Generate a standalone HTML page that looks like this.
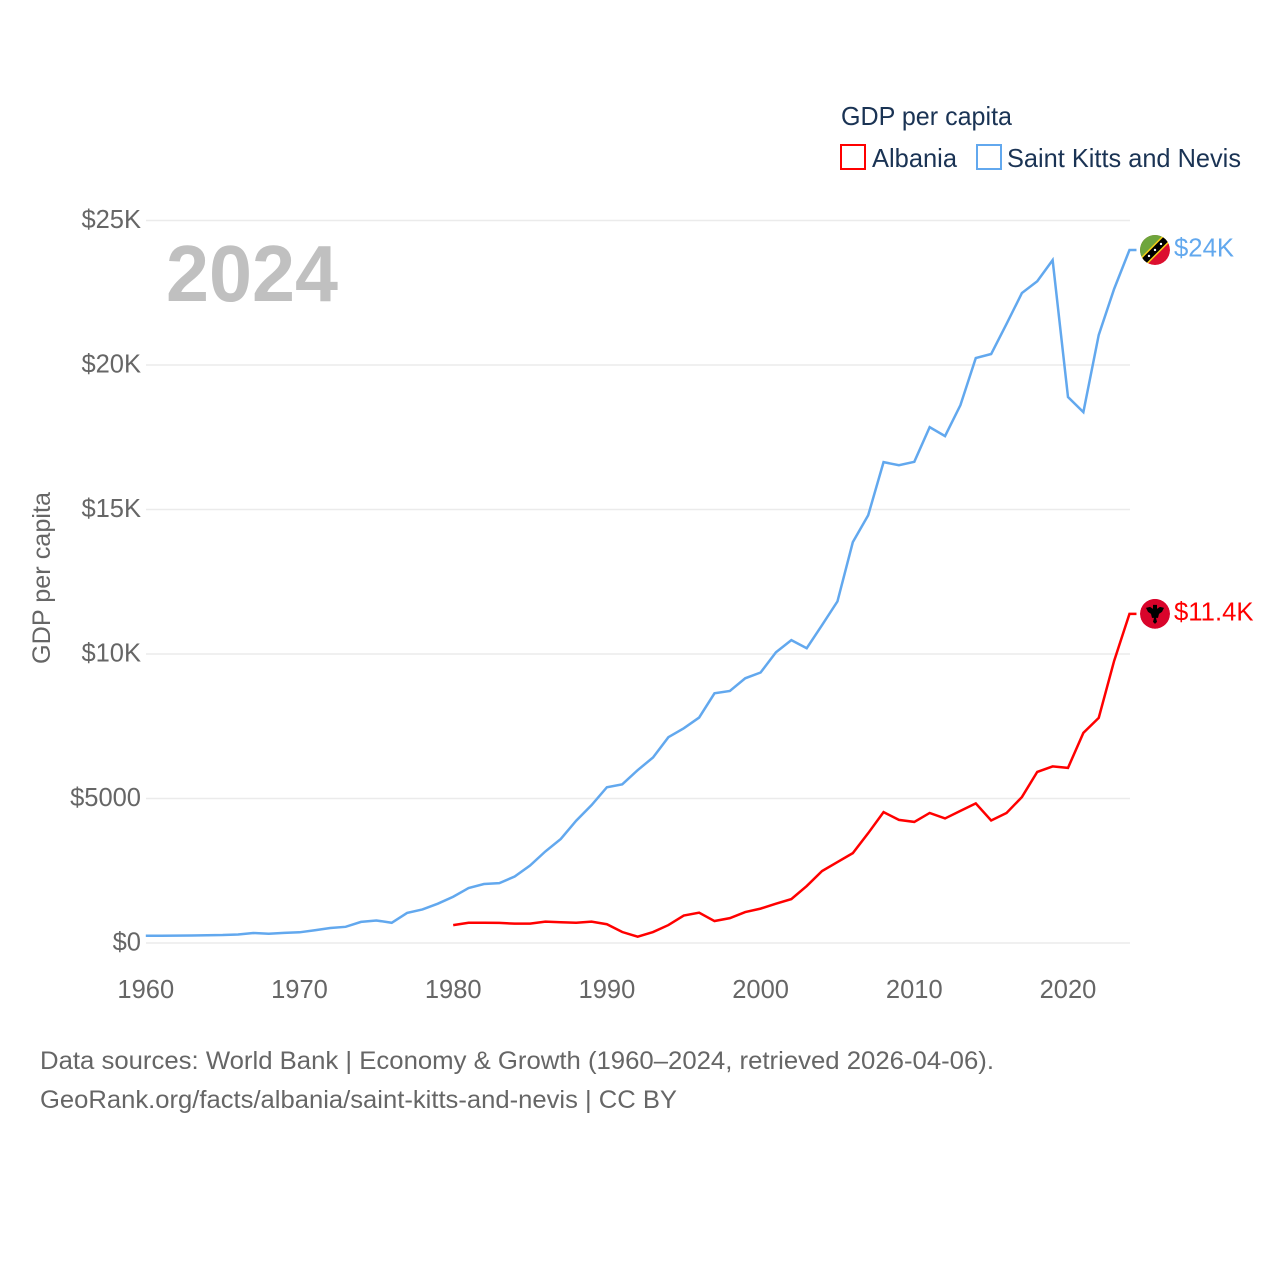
<!DOCTYPE html>
<html lang="en">
<head>
<meta charset="utf-8">
<title>GDP per capita: Albania and Saint Kitts and Nevis</title>
<style>
html,body{margin:0;padding:0;background:#fff;}
svg{display:block;font-family:"Liberation Sans",sans-serif;}
</style>
</head>
<body>
<svg id="chart" xmlns="http://www.w3.org/2000/svg" width="1280" height="1280" viewBox="0 0 1280 1280">
  <defs>
    <clipPath id="flag-clip-a"><circle cx="0" cy="0" r="15"></circle></clipPath>
  </defs>
  <rect width="1280" height="1280" fill="#ffffff"></rect>
  <g id="grid"></g>
  <g id="yticks"></g>
  <g id="xticks"></g>
  <text x="166" y="301" font-size="80" font-weight="700" fill="#c0c0c0" textLength="172" lengthAdjust="spacingAndGlyphs">2024</text>
  <text transform="translate(50,578) rotate(-90)" text-anchor="middle" font-size="25" fill="#666666" textLength="172" lengthAdjust="spacingAndGlyphs">GDP per capita</text>
  <g id="series"></g>
  <g id="ends"></g>
  <g>
    <text x="841" y="125" font-size="26" fill="#1a3354" textLength="171" lengthAdjust="spacingAndGlyphs">GDP per capita</text>
    <g>
      <rect x="841" y="145" width="24" height="24" fill="none" stroke="#ff0000" stroke-width="2"></rect>
      <text x="872" y="167" font-size="26" fill="#1a3354" textLength="85" lengthAdjust="spacingAndGlyphs">Albania</text>
    </g>
    <g>
      <rect x="977" y="145" width="24" height="24" fill="none" stroke="#62a8ee" stroke-width="2"></rect>
      <text x="1007" y="167" font-size="26" fill="#1a3354" textLength="234" lengthAdjust="spacingAndGlyphs">Saint Kitts and Nevis</text>
    </g>
  </g>
  <text x="40" y="1069" font-size="25" fill="#666666" textLength="954" lengthAdjust="spacingAndGlyphs">Data sources: World Bank | Economy &amp; Growth (1960–2024, retrieved 2026-04-06).</text>
  <a><text x="40" y="1108" font-size="25" fill="#666666" textLength="637" lengthAdjust="spacingAndGlyphs">GeoRank.org/facts/albania/saint-kitts-and-nevis | CC BY</text></a>
</svg>
<script>
const yTickValues = [0, 5000, 10000, 15000, 20000, 25000];
const yTickLabels = ["$0", "$5000", "$10K", "$15K", "$20K", "$25K"];
const xTickValues = [1960, 1970, 1980, 1990, 2000, 2010, 2020];
const xTickLabels = ["1960", "1970", "1980", "1990", "2000", "2010", "2020"];
const kittsStartYear = 1960;
const kittsValues = [250,250,255,260,270,275,295,345,320,350,370,440,520,560,730,780,700,1040,1160,1360,1600,1900,2040,2070,2300,2680,3170,3600,4230,4770,5390,5490,5980,6420,7120,7430,7800,8640,8720,9160,9360,10060,10480,10200,11000,11820,13870,14800,16640,16530,16650,17850,17540,18610,20240,20380,21420,22490,22900,23630,18890,18370,21040,22630,23980];
const kittsLabel = "$24K";
const albaniaStartYear = 1980;
const albaniaValues = [620,700,700,695,670,670,740,720,700,740,650,380,220,380,620,950,1050,760,860,1070,1190,1360,1520,1970,2490,2800,3110,3800,4530,4260,4190,4500,4310,4570,4830,4240,4500,5050,5920,6110,6060,7270,7790,9760,11390];
const albaniaLabel = "$11.4K";

const SVGNS = "http://www.w3.org/2000/svg";
const xScale = function (year) { return 145.8 + (year - 1960) * 15.37; };
const yScale = function (value) { return 943 - value * (943 - 220.5) / 25000; };
function make(tag, attrs, parent) {
  const el = document.createElementNS(SVGNS, tag);
  for (const k in attrs) el.setAttribute(k, attrs[k]);
  parent.appendChild(el);
  return el;
}
const grid = document.getElementById("grid");
const yticks = document.getElementById("yticks");
const xticks = document.getElementById("xticks");
const series = document.getElementById("series");
const ends = document.getElementById("ends");

yTickValues.forEach(function (v, i) {
  const line = make("line", {x1: 146, x2: 1130, y1: yScale(v), y2: yScale(v), stroke: "#ebebeb", "stroke-width": 1.4}, grid);
  
  
  const t = make("text", {x: 141, y: yScale(v) + 7.5, "text-anchor": "end", "font-size": 25.5, fill: "#666666"}, yticks);
  
  
  t.textContent = yTickLabels[i];
});
xTickValues.forEach(function (v, i) {
  const t = make("text", {x: xScale(v), y: 998, "text-anchor": "middle", "font-size": 25.5, fill: "#666666"}, xticks);
  
  
  t.textContent = xTickLabels[i];
});

function drawSeries(startYear, values, color, name) {
  const pts = values.map(function (v, i) { return xScale(startYear + i).toFixed(2) + "," + yScale(v).toFixed(2); });
  const last = values[values.length - 1];
  pts.push((xScale(startYear + values.length - 1) + 7).toFixed(2) + "," + yScale(last).toFixed(2));
  const p = make("polyline", {points: pts.join(" "), fill: "none", stroke: color, "stroke-width": 2.5, "stroke-linejoin": "miter"}, series);
  
  
}
drawSeries(kittsStartYear, kittsValues, "#62a8ee", "line-saint-kitts-and-nevis");
drawSeries(albaniaStartYear, albaniaValues, "#ff0000", "line-albania");

function endLabel(value, text, color, name) {
  const t = make("text", {x: 1174, y: yScale(value) + 6.5, "font-size": 25.7, fill: color}, ends);
  
  
  t.textContent = text;
}
endLabel(kittsValues[kittsValues.length - 1], kittsLabel, "#62a8ee", "end-label-saint-kitts-and-nevis");
endLabel(albaniaValues[albaniaValues.length - 1], albaniaLabel, "#ff0000", "end-label-albania");

const flagX = 1155;
const kf = make("g", {transform: "translate(" + flagX + "," + yScale(kittsValues[kittsValues.length - 1]) + ")", "clip-path": "url(#flag-clip-a)"}, ends);


make("circle", {cx: 0, cy: 0, r: 15, fill: "#dc0f2f"}, kf);
make("polygon", {points: "-16,-16 16,-16 -16,16", fill: "#6ea53c"}, kf);
make("line", {x1: -16, y1: 16, x2: 16, y2: -16, stroke: "#f7d117", "stroke-width": 9.5}, kf);
make("line", {x1: -16, y1: 16, x2: 16, y2: -16, stroke: "#000000", "stroke-width": 6.5}, kf);
make("circle", {cx: -6, cy: 6, r: 1.2, fill: "#ffffff"}, kf);
make("circle", {cx: 0, cy: 0, r: 1.2, fill: "#ffffff"}, kf);
make("circle", {cx: 6, cy: -6, r: 1.2, fill: "#ffffff"}, kf);

const af = make("g", {transform: "translate(" + flagX + "," + yScale(albaniaValues[albaniaValues.length - 1]) + ")", "clip-path": "url(#flag-clip-a)"}, ends);


make("circle", {cx: 0, cy: 0, r: 15, fill: "#d9042b"}, af);
make("polygon", {points: "-9,-6 -5,-7 -2,-5 -2,-9 2,-9 2,-5 5,-7 9,-6 7,-2 4,0 3,4 1,4 2,8 0,10 -2,8 -1,4 -3,4 -4,0 -7,-2", fill: "#000000"}, af);
</script>
</body>
</html>
